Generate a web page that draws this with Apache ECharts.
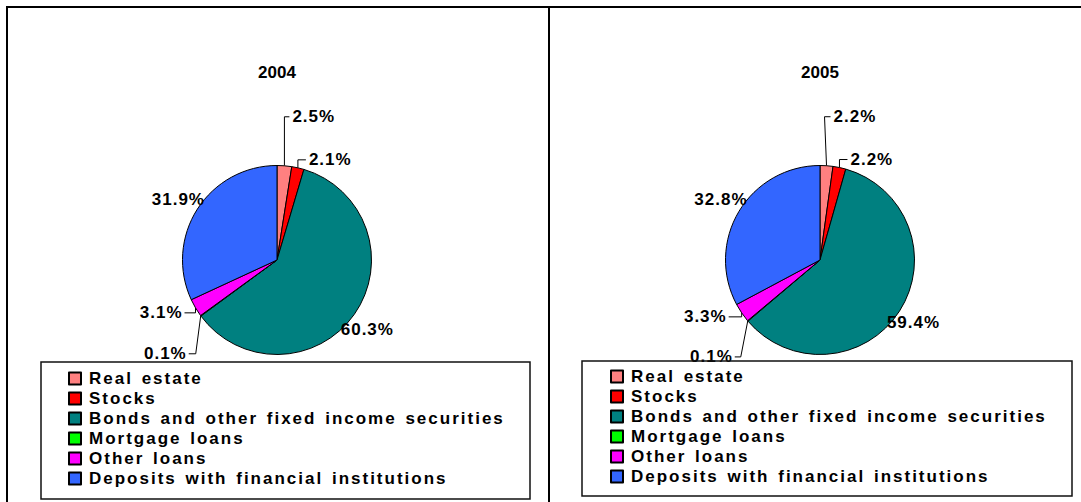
<!DOCTYPE html>
<html>
<head>
<meta charset="utf-8">
<script src="https://cdn.jsdelivr.net/npm/echarts@6/dist/echarts.min.js"></script>
<style>
html, body { margin: 0; padding: 0; background: #fff; }
#chart { width: 1081px; height: 502px; }
</style>
</head>
<body>
<div id="chart"></div>
<script>
// ---- data ----
const categories = [
  'Real estate',
  'Stocks',
  'Bonds and other fixed income securities',
  'Mortgage loans',
  'Other loans',
  'Deposits with financial institutions'
];
const years = ['2004', '2005'];
const values2004 = [2.5, 2.1, 60.3, 0.1, 3.1, 31.9];
const values2005 = [2.2, 2.2, 59.4, 0.1, 3.3, 32.8];

// ---- styles / layout ----
const colors = ['#FF8080', '#FF0000', '#008080', '#00FF00', '#FF00FF', '#3366FF'];
const FONT = "'Liberation Sans', Arial, Helvetica, sans-serif";
const pieCenters = [[277, 260], [820, 260]];
const pieRadius = 94.5;
// label offsets relative to slice mid-edge point
const labelPlacement = [
  [
    { dx: 8,   dy: -49, align: 'left',   line: true,  ex: 0 },
    { dx: 11,  dy: -8,  align: 'left',   line: true,  ex: 0 },
    { dx: 13,  dy: 15,  align: 'center', line: false },
    { dx: -14, dy: 38,  align: 'right',  line: true,  ex: -5 },
    { dx: -13, dy: 5,   align: 'right',  line: true,  ex: 0 },
    { dx: -19, dy: -10, align: 'center', line: false }
  ],
  [
    { dx: 7,   dy: -49, align: 'left',   line: true,  ex: -2 },
    { dx: 11,  dy: -8,  align: 'left',   line: true,  ex: 0 },
    { dx: 14,  dy: 11,  align: 'center', line: false },
    { dx: -15, dy: 36,  align: 'right',  line: true,  ex: -7 },
    { dx: -15, dy: 4,   align: 'right',  line: true,  ex: 0 },
    { dx: -18, dy: -12, align: 'center', line: false }
  ]
];
const allValues = [values2004, values2005];

function makeLayout(si) {
  const vals = allValues[si];
  const total = vals.reduce((a, b) => a + b, 0);
  return function (params) {
    const i = params.dataIndex;
    let cum = 0;
    for (let k = 0; k < i; k++) cum += vals[k];
    const a = 2 * Math.PI * (cum + vals[i] / 2) / total;
    const cx = pieCenters[si][0], cy = pieCenters[si][1];
    const px = cx + pieRadius * Math.sin(a);
    const py = cy - pieRadius * Math.cos(a);
    const o = labelPlacement[si][i];
    const x = px + o.dx, y = py + o.dy;
    const res = { x: x, y: y, align: o.align, verticalAlign: 'middle' };
    if (o.line) {
      const endX = o.align === 'right' ? x + 2 : x - 3;
      res.labelLinePoints = [[px, py], [px + o.ex, y], [endX, y]];
    }
    return res;
  };
}

function makeSeries(si) {
  const vals = allValues[si];
  return {
    type: 'pie',
    name: years[si],
    center: pieCenters[si],
    radius: pieRadius,
    startAngle: 90,
    clockwise: true,
    silent: true,
    avoidLabelOverlap: false,
    itemStyle: { borderColor: '#000', borderWidth: 1 },
    label: {
      show: true,
      position: 'outside',
      color: '#000',
      fontFamily: FONT,
      fontWeight: 'bold',
      fontSize: 17,
      formatter: function (p) { return p.value.toFixed(1) + '%'; }
    },
    labelLine: { show: true, length: 10, length2: 5, lineStyle: { color: '#000', width: 1 } },
    labelLayout: makeLayout(si),
    data: categories.map(function (c, i) {
      return {
        name: c,
        value: vals[i],
        itemStyle: { color: colors[i] },
        labelLine: { show: labelPlacement[si][i].line }
      };
    })
  };
}

function makeLegend(left, top) {
  return {
    orient: 'vertical',
    left: left,
    top: top,
    padding: 0,
    itemGap: 3,
    itemWidth: 12,
    itemHeight: 12,
    icon: 'rect',
    selectedMode: false,
    data: categories,
    textStyle: {
      color: '#000',
      fontFamily: FONT,
      fontWeight: 'bold',
      fontSize: 17,
      padding: [0, 0, 0, 3]
    }
  };
}

function makeTitle(text, x) {
  return {
    text: text,
    left: x,
    top: 64,
    textAlign: 'center',
    padding: 0,
    textStyle: { color: '#000', fontFamily: FONT, fontWeight: 'bold', fontSize: 17 }
  };
}

const chart = echarts.init(document.getElementById('chart'), null, { renderer: 'svg' });
chart.setOption({
  animation: false,
  backgroundColor: '#fff',
  color: colors,
  title: [makeTitle(years[0], pieCenters[0][0]), makeTitle(years[1], pieCenters[1][0])],
  legend: [makeLegend(68, 370), makeLegend(610, 368)],
  graphic: {
    elements: [
      { type: 'line', silent: true, shape: { x1: 6, y1: 7, x2: 1081, y2: 7 }, style: { stroke: '#000', lineWidth: 2 } },
      { type: 'line', silent: true, shape: { x1: 7, y1: 6, x2: 7, y2: 502 }, style: { stroke: '#000', lineWidth: 2 } },
      { type: 'line', silent: true, shape: { x1: 549, y1: 6, x2: 549, y2: 502 }, style: { stroke: '#000', lineWidth: 2 } },
      { type: 'rect', silent: true, z: 10, shape: { x: 41, y: 362, width: 489, height: 137 }, style: { fill: 'none', stroke: '#111', lineWidth: 1.5 } },
      { type: 'rect', silent: true, z: 10, shape: { x: 582, y: 361, width: 490, height: 135 }, style: { fill: 'none', stroke: '#111', lineWidth: 1.5 } }
    ]
  },
  series: [makeSeries(0), makeSeries(1)]
});

// letter spacing to mimic the original rendering
function applySpacing() {
  document.querySelectorAll('#chart text').forEach(function (t) {
    const s = t.textContent;
    if (categories.indexOf(s) >= 0) {
      t.style.letterSpacing = '2px';
      t.style.wordSpacing = '2px';
    } else if (/%$/.test(s)) {
      t.style.letterSpacing = '1px';
    }
  });
}
applySpacing();
chart.on('finished', applySpacing);
</script>
</body>
</html>
